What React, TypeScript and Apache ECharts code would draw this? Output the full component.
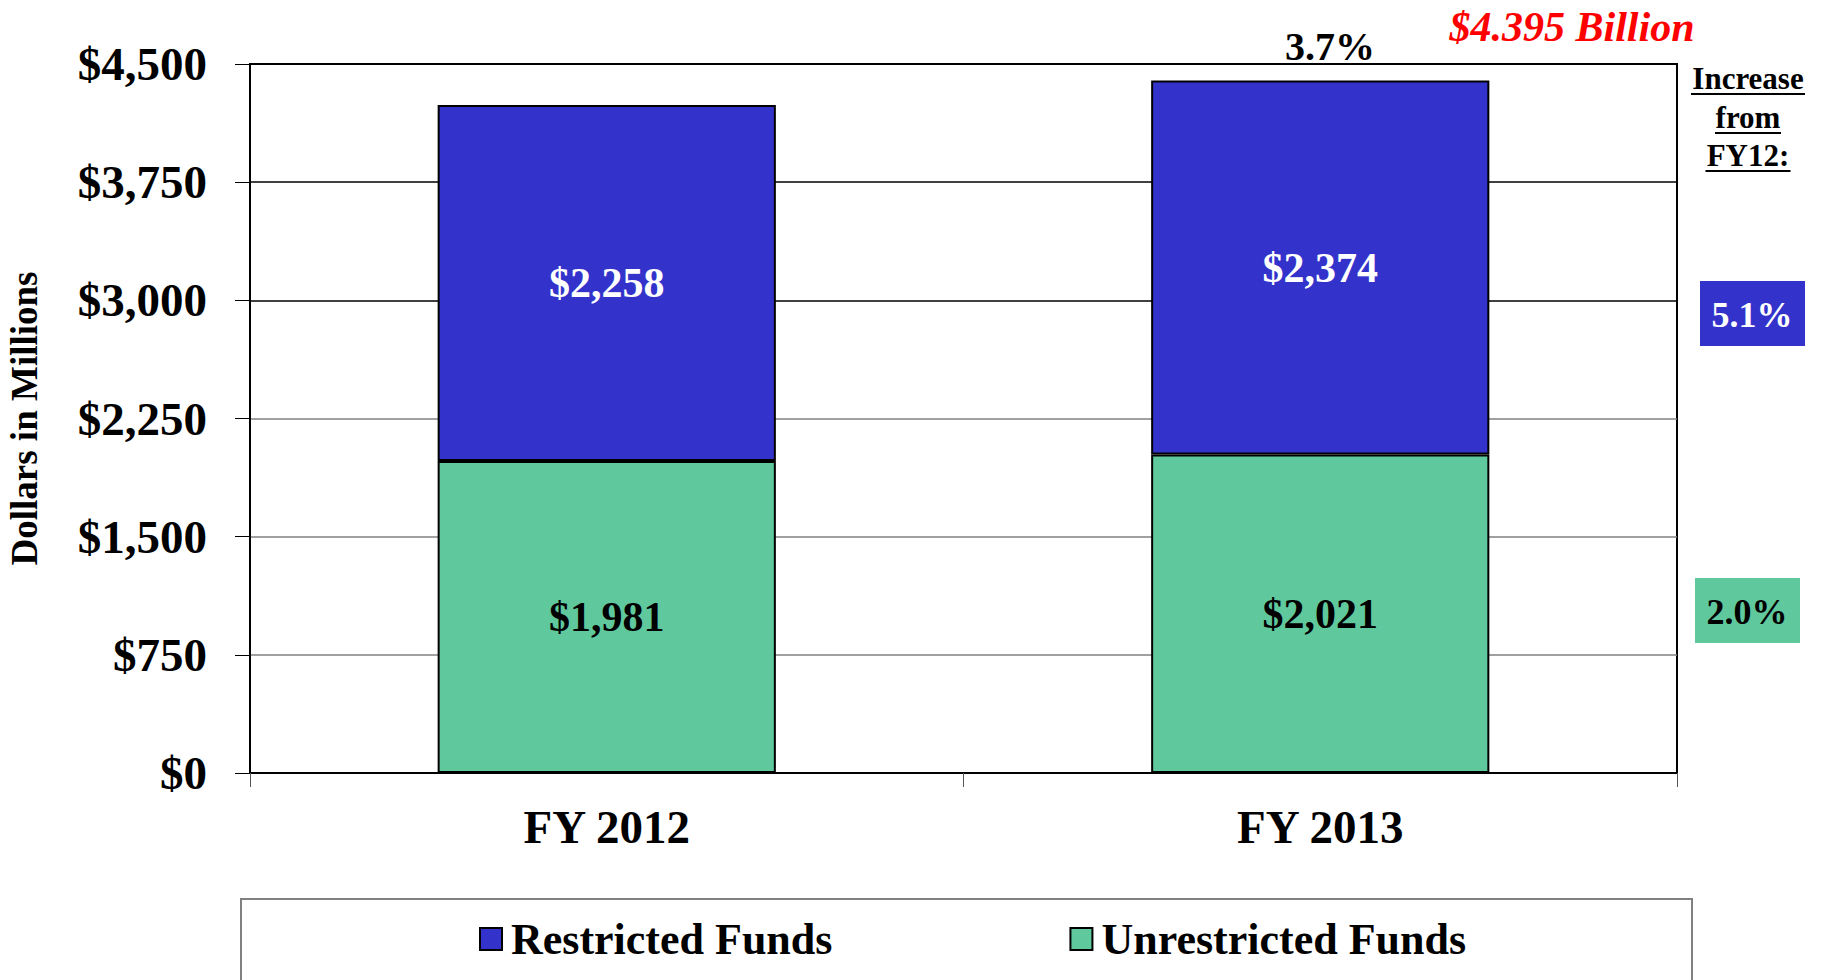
import React, { useEffect, useRef } from "react";
import * as echarts from "echarts";

const categories = ["FY 2012", "FY 2013"];
const unrestrictedFunds = [1981, 2021];
const restrictedFunds = [2258, 2374];
const yTicks = [0, 750, 1500, 2250, 3000, 3750, 4500];
const totalLabel = "$4.395 Billion";
const totalIncreaseLabel = "3.7%";
const increaseHeader = ["Increase", "from", "FY12:"];
const restrictedIncrease = "5.1%";
const unrestrictedIncrease = "2.0%";

const FONT = "'Liberation Serif', 'Times New Roman', serif";
const BLUE = "#3333CC";
const GREEN = "#5FC89C";

function fmt(v: number) {
  return "$" + v.toLocaleString("en-US");
}

export default function App() {
  const ref = useRef<HTMLDivElement>(null);
  useEffect(() => {
    if (!ref.current) return;
    const chart = echarts.init(ref.current, null, { renderer: "svg" });
    const yMax = yTicks[yTicks.length - 1];
    const interval = yTicks[1] - yTicks[0];
    const headerLines = [
      { y: 78, w: 114 },
      { y: 117, w: 66 },
      { y: 155, w: 85 },
    ];
    const graphics: any[] = [];
    increaseHeader.forEach((t, i) => {
      graphics.push({
        type: "text",
        x: 1748,
        y: headerLines[i].y,
        style: {
          text: t,
          font: `bold 31px ${FONT}`,
          fill: "#000",
          align: "center",
          verticalAlign: "middle",
        },
      });
      graphics.push({
        type: "line",
        shape: {
          x1: 1748 - headerLines[i].w / 2,
          y1: headerLines[i].y + 16,
          x2: 1748 + headerLines[i].w / 2,
          y2: headerLines[i].y + 16,
        },
        style: { stroke: "#000", lineWidth: 2 },
      });
    });
    graphics.push(
      {
        type: "text",
        x: 1572,
        y: 27,
        style: {
          text: totalLabel,
          font: `italic bold 42px ${FONT}`,
          fill: "#FF0000",
          align: "center",
          verticalAlign: "middle",
        },
      },
      {
        type: "text",
        x: 1330,
        y: 46,
        style: {
          text: totalIncreaseLabel,
          font: `bold 40px ${FONT}`,
          fill: "#000",
          align: "center",
          verticalAlign: "middle",
        },
      },
      {
        type: "rect",
        shape: { x: 1700, y: 281, width: 105, height: 65 },
        style: { fill: BLUE },
      },
      {
        type: "text",
        x: 1752,
        y: 315,
        style: {
          text: restrictedIncrease,
          font: `bold 36px ${FONT}`,
          fill: "#fff",
          align: "center",
          verticalAlign: "middle",
        },
      },
      {
        type: "rect",
        shape: { x: 1695, y: 578, width: 105, height: 65 },
        style: { fill: GREEN },
      },
      {
        type: "text",
        x: 1747,
        y: 612,
        style: {
          text: unrestrictedIncrease,
          font: `bold 36px ${FONT}`,
          fill: "#000",
          align: "center",
          verticalAlign: "middle",
        },
      },
      {
        type: "rect",
        z: -1,
        shape: { x: 241, y: 899, width: 1451, height: 120 },
        style: { fill: "#fff", stroke: "#808080", lineWidth: 2 },
      }
    );

    chart.setOption({
      animation: false,
      backgroundColor: "#fff",
      textStyle: { fontFamily: FONT },
      grid: {
        left: 250,
        top: 64,
        right: 145,
        bottom: 207,
        containLabel: false,
        outerBoundsMode: "none",
        show: true,
        borderColor: "#000",
        borderWidth: 2,
        backgroundColor: "transparent",
      },
      legend: {
        left: 479,
        top: 917,
        padding: 0,
        itemWidth: 22,
        itemHeight: 22,
        itemGap: 237,
        icon: "rect",
        data: [
          { name: "Restricted Funds", itemStyle: { borderColor: "#000", borderWidth: 2 } },
          { name: "Unrestricted Funds", itemStyle: { borderColor: "#000", borderWidth: 2 } },
        ],
        textStyle: {
          fontFamily: FONT,
          fontWeight: "bold",
          fontSize: 44,
          color: "#000",
          padding: [0, 0, 0, 4],
        },
      },
      xAxis: {
        type: "category",
        data: categories,
        axisLine: { show: true, lineStyle: { color: "#000", width: 2 } },
        axisTick: { show: true, length: 14, lineStyle: { color: "#555", width: 1 } },
        axisLabel: {
          margin: 30,
          fontFamily: FONT,
          fontWeight: "bold",
          fontSize: 47,
          color: "#000",
        },
      },
      yAxis: {
        type: "value",
        min: 0,
        max: yMax,
        interval,
        name: "Dollars in Millions",
        nameLocation: "middle",
        nameGap: 207,
        nameRotate: 90,
        nameTextStyle: {
          fontFamily: FONT,
          fontWeight: "bold",
          fontSize: 37,
          color: "#000",
        },
        axisLine: { show: true, lineStyle: { color: "#000", width: 2 } },
        axisTick: { show: true, length: 15, lineStyle: { color: "#000", width: 1 } },
        splitLine: {
          show: true,
          lineStyle: {
            color: ["#000", "#808080", "#808080", "#808080", "#000", "#000", "#000"],
            width: 1.5,
          },
        },
        axisLabel: {
          margin: 43,
          fontFamily: FONT,
          fontWeight: "bold",
          fontSize: 47,
          color: "#000",
          formatter: (v: number) => fmt(v),
        },
      },
      series: [
        {
          name: "Unrestricted Funds",
          type: "bar",
          stack: "total",
          barWidth: "47.4%",
          data: unrestrictedFunds,
          itemStyle: { color: GREEN, borderColor: "#000", borderWidth: 2 },
          label: {
            show: true,
            position: "inside",
            fontFamily: FONT,
            fontWeight: "bold",
            fontSize: 42,
            color: "#000",
            formatter: (p: any) => fmt(p.value),
          },
        },
        {
          name: "Restricted Funds",
          type: "bar",
          stack: "total",
          barWidth: "47.4%",
          data: restrictedFunds,
          itemStyle: { color: BLUE, borderColor: "#000", borderWidth: 2 },
          label: {
            show: true,
            position: "inside",
            fontFamily: FONT,
            fontWeight: "bold",
            fontSize: 42,
            color: "#fff",
            formatter: (p: any) => fmt(p.value),
          },
        },
      ],
      graphic: graphics,
    });
    return () => chart.dispose();
  }, []);
  return (
    <div
      ref={ref}
      style={{ position: "absolute", left: 0, top: 0, width: 1822, height: 980 }}
    />
  );
}
